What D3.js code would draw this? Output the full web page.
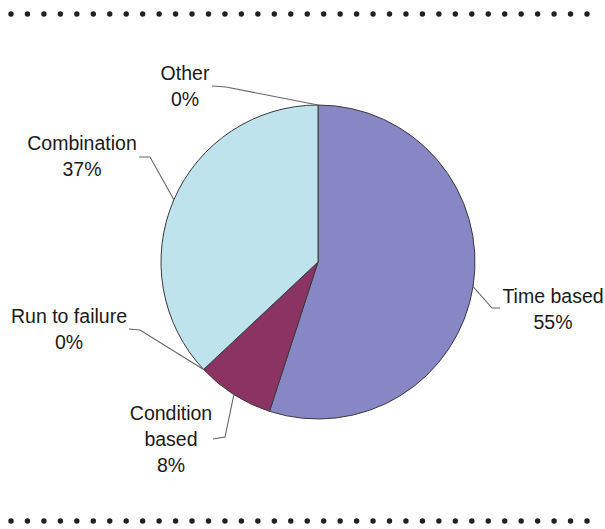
<!DOCTYPE html>
<meta charset="utf-8">
<style>
body { margin: 0; background: #fff; }
.lbl { font-family: "Liberation Sans", Arial, sans-serif; font-size: 19.5px; fill: #1a1a1a; }
.leader { fill: none; stroke: #666; stroke-width: 1.1px; }
.slice { stroke: #3a3a3a; stroke-width: 1px; }
</style>
<body>
<svg id="chart"></svg>
<script src="https://d3js.org/d3.v7.min.js"></script>
<script>

// data
var categories = ["Time based", "Condition based", "Run to failure", "Combination", "Other"];
var shares = [55, 8, 0, 37, 0];
var colours = ["#8787c6", "#8b3363", "#8b3363", "#bee3ec", "#bee3ec"];

// label layout (text block centre x, first baseline y) and leader elbow
var labelPos = [
  {x: 553, y: 303, lines: ["Time based"], elbow: [[500, 308], [492, 308]]},
  {x: 171, y: 420, lines: ["Condition", "based"], elbow: [[213, 439], [225, 437]]},
  {x: 69, y: 323, lines: ["Run to failure"], elbow: [[129, 329], [140, 330]]},
  {x: 82, y: 150, lines: ["Combination"], elbow: [[139, 157], [150, 157]]},
  {x: 185, y: 80, lines: ["Other"], elbow: [[212, 86], [226, 87]]}
];

var width = 605, height = 529;
var cx = 318, cy = 262, radius = 157;

var svg = d3.select("#chart")
    .attr("width", width)
    .attr("height", height);

// dotted frame lines top and bottom
var dotX = d3.scaleLinear().domain([0, 35]).range([11, 587]);
[14, 521].forEach(function(yy) {
  svg.append("g").selectAll("circle")
      .data(d3.range(36))
    .enter().append("circle")
      .attr("cx", function(d) { return dotX(d); })
      .attr("cy", yy)
      .attr("r", 2.7)
      .style("fill", "#231f20");
});

var data = categories.map(function(c, i) { return {name: c, value: shares[i], i: i}; });

var pie = d3.pie().sort(null).value(function(d) { return d.value; });
var arcs = pie(data);

var arc = d3.arc().innerRadius(0).outerRadius(radius);

var g = svg.append("g")
    .attr("transform", "translate(" + cx + "," + cy + ")");

g.selectAll("path.slice")
    .data(arcs.filter(function(a) { return a.data.value > 0; }))
  .enter().append("path")
    .attr("class", "slice")
    .attr("d", arc)
    .style("fill", function(a) { return colours[a.data.i]; });

// leader lines and labels
arcs.forEach(function(a, i) {
  var mid = (a.startAngle + a.endAngle) / 2;
  var px = cx + radius * Math.sin(mid), py = cy - radius * Math.cos(mid);
  var lp = labelPos[i];
  var pts = lp.elbow.concat([[px, py]]);
  svg.append("path")
      .attr("class", "leader")
      .attr("d", d3.line()(pts));

  var lines = lp.lines.concat([a.data.value + "%"]);
  var t = svg.append("text")
      .attr("class", "lbl")
      .attr("text-anchor", "middle");
  lines.forEach(function(s, k) {
    t.append("tspan")
        .attr("x", lp.x)
        .attr("y", lp.y + k * 26)
        .text(s);
  });
});

</script>
</body>
